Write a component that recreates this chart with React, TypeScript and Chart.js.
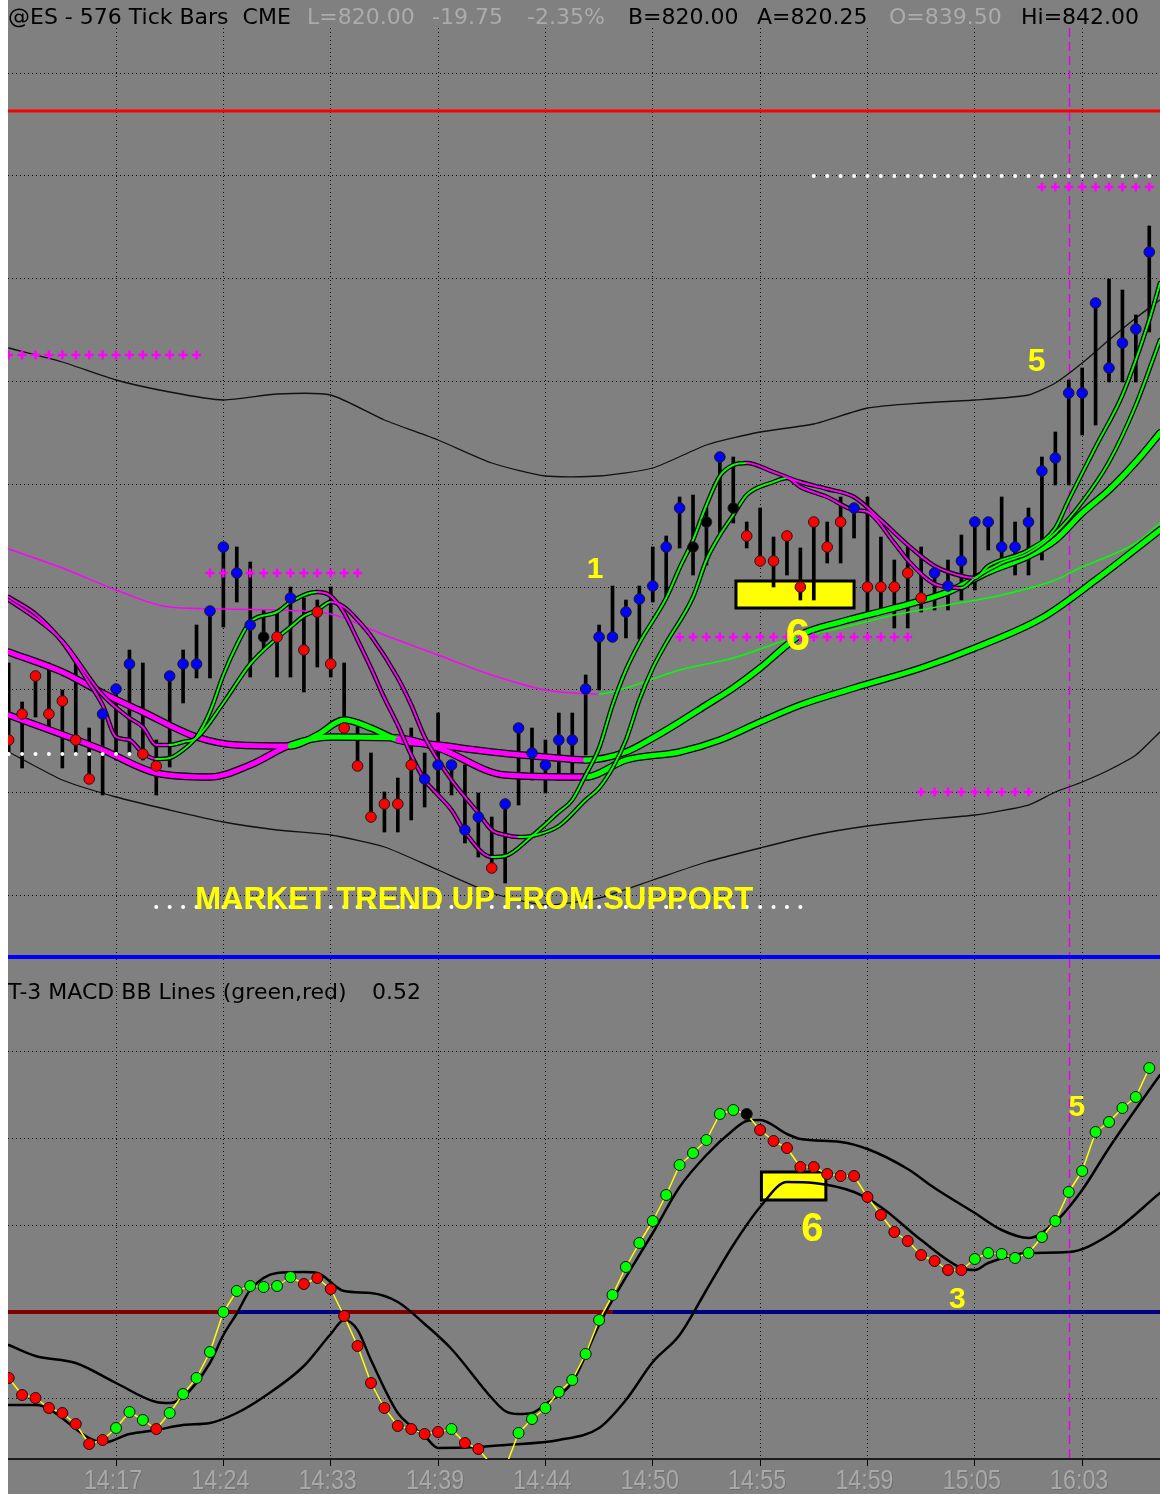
import React, { useEffect, useRef } from 'react';
import { Chart, registerables } from 'chart.js';

Chart.register(...registerables);

// ---------------- data ----------------
const timeLabels = ['14:17', '14:24', '14:33', '14:39', '14:44', '14:50', '14:55', '14:59', '15:05', '16:03'];
const timeTickIndex = [8, 16, 24, 32, 40, 48, 56, 64, 72, 80];

const barHigh = [
  836.37, 835.98, 836.27, 836.37, 836.10, 836.37, 835.72, 835.87, 836.13, 836.50,
  836.37, 835.60, 836.27, 836.50, 836.75, 836.90, 837.53, 837.53, 837.38, 836.90,
  836.88, 837.13, 837.02, 837.00, 837.13, 836.37, 835.73, 835.47, 835.08, 835.22,
  835.72, 835.47, 835.87, 835.35, 835.35, 835.07, 834.83, 834.95, 835.73, 835.72,
  835.60, 835.87, 835.87, 836.25, 836.75, 837.14, 837.00, 837.14, 837.53, 837.64,
  838.03, 838.05, 837.92, 838.43, 838.43, 837.78, 837.92, 837.63, 837.63, 837.52,
  837.78, 837.78, 838.03, 837.92, 838.03, 837.63, 837.40, 837.53, 837.53, 837.30,
  837.40, 837.65, 837.78, 837.78, 838.03, 837.78, 837.92, 838.43, 838.68, 839.20,
  839.32, 839.98, 840.21, 840.10, 839.85, 840.74,
];
const barLow = [
  835.47, 835.32, 835.83, 835.70, 835.32, 835.47, 835.20, 835.05, 835.40, 835.47,
  835.40, 835.05, 835.33, 835.97, 836.22, 836.22, 836.73, 836.98, 836.23, 836.50,
  836.23, 836.23, 836.08, 836.33, 836.23, 835.70, 835.33, 834.80, 834.68, 834.68,
  834.80, 834.93, 835.07, 835.05, 834.57, 834.43, 834.30, 834.17, 834.95, 835.20,
  835.07, 835.20, 835.20, 835.45, 836.10, 836.63, 836.62, 836.61, 836.98, 837.03,
  837.52, 837.25, 837.35, 837.65, 837.77, 837.52, 837.38, 837.13, 837.25, 837.00,
  837.00, 837.37, 837.37, 837.62, 836.88, 836.90, 836.72, 836.72, 836.88, 836.90,
  836.90, 837.00, 837.10, 837.50, 837.42, 837.25, 837.25, 837.40, 838.15, 838.15,
  838.65, 838.75, 839.18, 839.18, 839.18, 839.68,
];
const barClose = [
  835.60, 835.86, 836.24, 835.86, 835.99, 835.60, 835.21, 835.86, 836.11, 836.36,
  835.46, 835.34, 836.24, 836.36, 836.36, 836.89, 837.53, 837.27, 836.75, 836.63,
  836.63, 837.02, 836.50, 836.88, 836.36, 835.72, 835.34, 834.83, 834.96, 834.96,
  835.35, 835.21, 835.35, 835.35, 834.70, 834.83, 834.32, 834.96, 835.72, 835.47,
  835.35, 835.60, 835.60, 836.11, 836.63, 836.63, 836.88, 837.01, 837.14, 837.53,
  837.92, 837.53, 837.78, 838.43, 837.92, 837.64, 837.39, 837.39, 837.64, 837.13,
  837.78, 837.53, 837.78, 837.92, 837.13, 837.13, 837.13, 837.27, 837.02, 837.27,
  837.14, 837.39, 837.78, 837.78, 837.53, 837.53, 837.78, 838.29, 838.42, 839.07,
  839.07, 839.97, 839.32, 839.57, 839.71, 840.48,
];
// B = up (blue), R = down (red), K = neutral (black)
const barCloseState = ['RRRRRRRBBB', 'RRBBBBBBBK', 'RBRRRRRRRR', 'RBBBBBRBBB', 'BBBBBBBBBB',
  'BKKBKRRRRR', 'RRRBRRRRRB', 'BBBBBBBBBB', 'BBBBBB'].join('').split('');

const upperBandIdx = [0, 4, 8, 12, 16, 20, 24, 28, 32, 36, 40, 44, 48, 52, 56, 60, 64, 68, 72, 76, 78, 80, 82, 84, 85.8];
const upperBandVal = [839.52, 839.38, 839.20, 839.08, 839.00, 839.06, 839.05, 838.80, 838.60, 838.37, 838.24, 838.24, 838.32,
  838.55, 838.68, 838.76, 838.92, 838.97, 839.00, 839.05, 839.17, 839.37, 839.60, 839.82, 840.00];
const lowerBandIdx = [0, 4, 8, 12, 16, 20, 24, 28, 32, 36, 40, 44, 48, 52, 56, 60, 64, 68, 72, 76, 78, 80, 82, 84, 85.8];
const lowerBandVal = [835.48, 835.20, 835.03, 834.90, 834.78, 834.70, 834.65, 834.53, 834.30, 834.07, 833.95, 834.02, 834.20,
  834.38, 834.52, 834.65, 834.74, 834.80, 834.85, 834.95, 835.08, 835.18, 835.30, 835.45, 835.68];

const slowAvgIdx = [0, 4, 8, 12, 16, 20, 24, 28, 32, 36, 40, 42, 44, 46, 50, 54, 58, 62, 66, 70, 74, 78, 80, 82, 84, 85.8];
const slowAvgVal = [837.51, 837.32, 837.10, 836.93, 836.91, 836.90, 836.86, 836.65, 836.45, 836.25, 836.10, 836.07, 836.06,
  836.12, 836.30, 836.42, 836.60, 836.72, 836.85, 836.95, 837.05, 837.20, 837.33, 837.44, 837.57, 837.77];

const thickAIdx = [0, 4, 7, 10, 14, 17, 21, 23, 25, 27, 29, 32, 36, 40, 43, 46, 48, 50, 52, 54, 56, 58, 59, 62, 66, 70, 73, 76, 78, 80, 82, 84, 85.8];
const thickAVal = [836.48, 836.28, 836.07, 835.88, 835.63, 835.55, 835.54, 835.65, 835.80, 835.72, 835.60, 835.55, 835.48,
  835.43, 835.40, 835.48, 835.62, 835.78, 835.95, 836.12, 836.32, 836.55, 836.65, 836.78, 836.92, 837.08, 837.28, 837.44,
  837.60, 837.87, 838.10, 838.38, 838.67];
const thickATrend = ('DDDDDD' + 'UUUU' + 'DDDD' + 'UUUUUUUUUUUUUUUUUUU').split('');

const thickBIdx = [0, 7, 11, 15, 18, 21, 24, 29, 32, 37, 43, 46, 50, 53, 56, 59, 63, 68, 72, 77, 81, 85.8];
const thickBVal = [835.85, 835.50, 835.27, 835.23, 835.35, 835.55, 835.63, 835.62, 835.52, 835.25, 835.23, 835.40, 835.48,
  835.60, 835.78, 835.95, 836.12, 836.32, 836.52, 836.82, 837.20, 837.70];
const thickBTrend = ('DDDDD' + 'UU' + 'DDD' + 'UUUUUUUUUUUU').split('');

const fastAIdx = [0, 2, 4, 6, 7, 8, 9, 10, 11, 12, 13, 14, 15, 16, 17, 18, 20, 21, 23, 24, 25, 26, 27, 28, 29, 30, 31, 32, 33,
  34, 36, 37, 39, 41, 42, 43, 44, 45, 46, 47, 49, 50, 51, 52, 53, 54, 55, 57, 59, 61, 63, 65, 67, 69, 71, 72, 73, 76, 78, 79,
  81, 83, 85, 85.8];
const fastAVal = [837.03, 836.86, 836.58, 836.17, 835.95, 835.63, 835.60, 835.47, 835.41, 835.42, 835.50, 835.63, 835.88,
  836.25, 836.55, 836.78, 836.88, 836.98, 837.08, 837.04, 836.87, 836.60, 836.32, 836.02, 835.75, 835.45, 835.20, 835.05,
  834.90, 834.68, 834.43, 834.44, 834.64, 834.88, 835.00, 835.25, 835.52, 835.95, 836.30, 836.57, 837.02, 837.32, 837.60,
  837.95, 838.24, 838.35, 838.37, 838.28, 838.18, 838.11, 838.03, 837.80, 837.55, 837.34, 837.24, 837.22, 837.34, 837.50,
  837.72, 838.00, 838.53, 839.05, 839.80, 840.17];

const fastBIdx = [0, 2, 4, 7, 9, 10, 11, 12, 13, 14, 16, 18, 20, 21, 22, 23, 24, 25, 26, 27, 29, 30, 31, 32, 33, 35, 36, 37, 38,
  39, 41, 43, 44, 45, 46, 47, 48, 49, 51, 52, 53, 54, 55, 57, 58, 59, 61, 63, 64, 66, 67, 69, 71, 72, 74, 76, 78, 80, 82, 84, 85.8];
const fastBVal = [837.00, 836.82, 836.59, 836.05, 835.82, 835.73, 835.55, 835.55, 835.58, 835.62, 835.97, 836.36, 836.62,
  836.73, 836.84, 836.90, 836.98, 836.93, 836.80, 836.64, 836.22, 835.95, 835.63, 835.40, 835.20, 834.87, 834.70, 834.65,
  834.63, 834.64, 834.74, 835.00, 835.12, 835.32, 835.60, 836.00, 836.32, 836.57, 837.03, 837.40, 837.65, 837.85, 838.05,
  838.18, 838.22, 838.13, 838.03, 837.90, 837.88, 837.57, 837.40, 837.16, 837.12, 837.22, 837.37, 837.47, 837.67, 837.98,
  838.38, 838.95, 839.60];

const resistancePrice = 841.89;
const crossLevelFrom = [0, 15, 50, 68, 77];
const crossLevelTo = [14, 26, 67, 76, 85];
const crossLevelPrice = [839.45, 837.27, 836.63, 835.08, 841.13];
const dotLevelFrom = [0, 11, 60];
const dotLevelTo = [10, 59, 85];
const dotLevelPrice = [835.46, 833.93, 841.24];

const setupBoxIdx = [54.2, 63.0];
const setupBoxPrice = [837.19, 836.92];
const marketNote = 'MARKET TREND UP FROM SUPPORT';
const marketNoteAt = [13.9, 834.0];
const topNoteText = ['1', '5', '6'];
const topNoteIdx = [43.7, 76.6, 58.8];
const topNotePrice = [837.30, 839.38, 836.62];
const sessionMarkIdx = 79;

const headerParts = [
  ['@ES - 576 Tick Bars  CME', 0, 'k'], ['L=820.00', 299, 'g'], ['-19.75', 424, 'g'], ['-2.35%', 519, 'g'],
  ['B=820.00', 620, 'k'], ['A=820.25', 749, 'k'], ['O=839.50', 881, 'g'], ['Hi=842.00', 1013, 'k'],
];

const macdValues = [
  -0.132, -0.166, -0.172, -0.192, -0.202, -0.224, -0.264, -0.256, -0.232, -0.200,
  -0.216, -0.234, -0.202, -0.164, -0.132, -0.080, 0.000, 0.042, 0.052, 0.050,
  0.052, 0.070, 0.056, 0.068, 0.046, -0.008, -0.068, -0.142, -0.192, -0.228,
  -0.234, -0.244, -0.240, -0.234, -0.262, -0.274, -0.306, -0.312, -0.242, -0.214,
  -0.192, -0.160, -0.136, -0.084, -0.016, 0.034, 0.090, 0.138, 0.182, 0.234,
  0.294, 0.318, 0.344, 0.396, 0.404, 0.396, 0.364, 0.342, 0.328, 0.290,
  0.290, 0.276, 0.272, 0.272, 0.230, 0.194, 0.160, 0.142, 0.114, 0.102,
  0.084, 0.084, 0.106, 0.118, 0.116, 0.108, 0.118, 0.150, 0.182, 0.240,
  0.282, 0.360, 0.380, 0.408, 0.430, 0.488,
];
const macdState = ['RRRRRRRRGG', 'GRGGGGGGGG', 'GGRRRRRRRR', 'RRRGRRRRGG', 'GGGGGGGGGG',
  'GGGGGKRRRR', 'RRRRRRRRRR', 'RRGGGGGGGG', 'GGGGGG'].join('').split('');

const macdUpperIdx = [0, 2, 5, 8, 11, 12, 13, 15, 16, 17, 18, 20, 22, 23, 25, 27, 29, 31, 33, 36, 37, 38, 39, 40, 42, 44, 45,
  47, 48, 50, 52, 54, 55, 56, 58, 59, 62, 64, 67, 69, 72, 74, 76, 78, 80, 82, 85, 85.8];
const macdUpperVal = [-0.066, -0.088, -0.102, -0.142, -0.180, -0.182, -0.170, -0.102, -0.046, -0.003, 0.044, 0.078, 0.080,
  0.078, 0.042, 0.038, 0.020, -0.024, -0.074, -0.172, -0.198, -0.204, -0.202, -0.184, -0.140, -0.026, 0.024, 0.114, 0.158,
  0.250, 0.314, 0.364, 0.382, 0.384, 0.356, 0.346, 0.340, 0.326, 0.286, 0.248, 0.198, 0.164, 0.148, 0.180, 0.244, 0.328,
  0.444, 0.474];
const macdLowerIdx = [0, 2, 6, 7, 9, 11, 13, 15, 17, 19, 22, 24, 25, 26, 27, 29, 30, 31, 32, 35, 37, 41, 44, 46, 48, 50, 52,
  54, 56, 58, 60, 63, 65, 68, 71, 72, 73, 76, 79, 82, 85.8];
const macdLowerVal = [-0.186, -0.186, -0.252, -0.262, -0.244, -0.236, -0.226, -0.222, -0.202, -0.170, -0.108, -0.044, -0.016,
  -0.036, -0.096, -0.202, -0.228, -0.248, -0.272, -0.270, -0.266, -0.256, -0.232, -0.176, -0.100, -0.046, 0.044, 0.134,
  0.210, 0.260, 0.258, 0.240, 0.210, 0.144, 0.088, 0.084, 0.098, 0.118, 0.120, 0.154, 0.238];

const macdBoxIdx = [56.1, 60.9];
const macdBoxVal = [0.28, 0.224];
const macdNoteText = ['5', '6', '3'];
const macdNoteIdx = [79.6, 59.9, 70.7];
const macdNoteVal = [0.408, 0.164, 0.024];
const macdTitle = 'T-3 MACD BB Lines (green,red)';
const macdReading = '0.52';

// ---------------- layout constants ----------------
const W = 1152;
const TOP_H = 955;
const BOT_H = 535;
const X_MIN = -0.05;
const X_MAX = 85.8;
const PRICE_MIN = 833.45;
const PRICE_MAX = 842.72;
const PRICE_GRID_TOP = 842.27;
const PRICE_GRID_STEP = 1.028;
const MACD_MIN = -0.294;
const MACD_MAX = 0.706;
const MACD_GRID = [-0.1735, 0, 0.1735, 0.347, 0.5205];

const MAGENTA = '#ff00ff';
const GREEN = '#00ff00';
const YELLOW = '#ffff00';
const LIGHT = '#ababab';
const UI_FONT = '"DejaVu Sans", Verdana, sans-serif';
const BOLD_FONT = '"Liberation Sans", Arial, sans-serif';
const BAR_DOT: Record<string, string> = { B: '#0000ff', R: '#ff0000', K: '#000000' };
const MACD_DOT: Record<string, string> = { G: '#00ff00', R: '#ff0000', K: '#000000' };

const pts = (xs: number[], ys: number[]) => xs.map((x, k) => ({ x, y: ys[k] }));
const levelPts = (a: number, b: number, y: number) => {
  const out: { x: number; y: number }[] = [];
  for (let i = a; i <= b; i++) out.push({ x: i, y });
  return out;
};
const barIndex = barHigh.map((_, i) => i);

const slopeColor = (ctx: any) => (ctx.p1.parsed.y > ctx.p0.parsed.y ? GREEN : MAGENTA);
const trendColor = (trend: string[]) => (ctx: any) => (trend[ctx.p0DataIndex] === 'U' ? GREEN : MAGENTA);

const lineDs = (data: any[], opts: any) => ({
  type: 'line',
  data,
  showLine: true,
  pointRadius: 0,
  pointHoverRadius: 0,
  fill: false,
  cubicInterpolationMode: 'monotone',
  borderJoinStyle: 'round',
  borderCapStyle: 'round',
  clip: 0,
  ...opts,
});

function drawText(ctx: CanvasRenderingContext2D, s: string, x: number, y: number, font: string, color: string, align: CanvasTextAlign = 'left') {
  ctx.save();
  ctx.font = font;
  ctx.fillStyle = color;
  ctx.textAlign = align;
  ctx.textBaseline = 'middle';
  ctx.fillText(s, x, y);
  ctx.restore();
}

function drawBox(chart: any, xs: number[], ys: number[]) {
  const { ctx, scales } = chart;
  const x1 = scales.x.getPixelForValue(xs[0]);
  const x2 = scales.x.getPixelForValue(xs[1]);
  const y1 = scales.y.getPixelForValue(ys[0]);
  const y2 = scales.y.getPixelForValue(ys[1]);
  ctx.save();
  ctx.fillStyle = YELLOW;
  ctx.fillRect(x1, y1, x2 - x1, y2 - y1);
  ctx.lineWidth = 3;
  ctx.strokeStyle = '#000';
  ctx.strokeRect(x1, y1, x2 - x1, y2 - y1);
  ctx.restore();
}

function drawSessionMark(chart: any) {
  const { ctx, scales, chartArea } = chart;
  const x = Math.round(scales.x.getPixelForValue(sessionMarkIdx)) + 0.5;
  ctx.save();
  ctx.strokeStyle = '#e600e6';
  ctx.lineWidth = 1.5;
  ctx.setLineDash([9, 5]);
  ctx.beginPath();
  ctx.moveTo(x, chartArea.top);
  ctx.lineTo(x, chartArea.bottom);
  ctx.stroke();
  ctx.restore();
}

const gridScale = (min: number, max: number, ticks: number[], isX: boolean) => ({
  type: 'linear',
  min,
  max,
  offset: false,
  afterBuildTicks: (s: any) => {
    s.ticks = ticks.map((v) => ({ value: v }));
  },
  afterFit: (s: any) => {
    if (isX) s.height = 0;
    else s.width = 0;
  },
  ticks: { display: false },
  grid: { color: '#000', lineWidth: 1, drawTicks: false, offset: false },
  border: { display: false, dash: [1, 3] },
});

const baseOptions = {
  animation: false,
  responsive: false,
  maintainAspectRatio: false,
  devicePixelRatio: 1,
  events: [],
  plugins: { legend: { display: false }, tooltip: { enabled: false }, title: { display: false } },
};

function topConfig(): any {
  const priceGrid = Array.from({ length: 9 }, (_, k) => PRICE_GRID_TOP - k * PRICE_GRID_STEP);
  const crosses: any[] = [];
  crossLevelFrom.forEach((a, k) => crosses.push(...levelPts(a, crossLevelTo[k], crossLevelPrice[k])));
  const whites: any[] = [];
  dotLevelFrom.forEach((a, k) => whites.push(...levelPts(a, dotLevelTo[k], dotLevelPrice[k])));

  const datasets: any[] = [
    {
      type: 'scatter', data: pts(barIndex, barClose), showLine: false, pointStyle: 'circle', pointRadius: 5.3,
      pointHoverRadius: 5.3, pointBackgroundColor: barCloseState.map((c) => BAR_DOT[c]), pointBorderColor: '#1a1a1a',
      pointBorderWidth: 1, order: 1, clip: 0,
    },
    { type: 'scatter', data: whites, showLine: false, pointStyle: 'circle', pointRadius: 2, pointBackgroundColor: '#ffffff', pointBorderWidth: 0, order: 1.5, clip: 0 },
    { type: 'scatter', data: crosses, showLine: false, pointStyle: 'cross', pointRadius: 4.5, borderColor: MAGENTA, pointBorderColor: MAGENTA, pointBorderWidth: 2.5, order: 1.6, clip: 0 },
    lineDs(pts(fastAIdx, fastAVal), { borderWidth: 2, borderColor: GREEN, segment: { borderColor: slopeColor }, order: 2 }),
    lineDs(pts(fastBIdx, fastBVal), { borderWidth: 2, borderColor: GREEN, segment: { borderColor: slopeColor }, order: 2 }),
    lineDs(pts(fastAIdx, fastAVal), { borderWidth: 4.5, borderColor: '#000', order: 3 }),
    lineDs(pts(fastBIdx, fastBVal), { borderWidth: 4.5, borderColor: '#000', order: 3 }),
    lineDs(pts(thickAIdx, thickAVal), { borderWidth: 5, borderColor: GREEN, segment: { borderColor: trendColor(thickATrend) }, order: 4 }),
    lineDs(pts(thickBIdx, thickBVal), { borderWidth: 5, borderColor: GREEN, segment: { borderColor: trendColor(thickBTrend) }, order: 4 }),
    lineDs(pts(thickAIdx, thickAVal), { borderWidth: 7.5, borderColor: '#000', order: 5 }),
    lineDs(pts(thickBIdx, thickBVal), { borderWidth: 7.5, borderColor: '#000', order: 5 }),
    lineDs(pts(slowAvgIdx, slowAvgVal), { borderWidth: 1.5, borderColor: MAGENTA, segment: { borderColor: slopeColor }, order: 5.8 }),
    {
      type: 'bar', data: barIndex.map((i) => ({ x: i, y: [barLow[i], barHigh[i]] })), backgroundColor: '#000',
      borderWidth: 0, barThickness: 3, order: 6, clip: 0,
    },
    lineDs(pts(upperBandIdx, upperBandVal), { borderWidth: 1.3, borderColor: '#111', cubicInterpolationMode: 'default', tension: 0.2, order: 8 }),
    lineDs(pts(lowerBandIdx, lowerBandVal), { borderWidth: 1.3, borderColor: '#111', cubicInterpolationMode: 'default', tension: 0.2, order: 8 }),
    lineDs([{ x: X_MIN, y: resistancePrice }, { x: X_MAX, y: resistancePrice }], { borderWidth: 3, borderColor: '#ff0000', order: 9, cubicInterpolationMode: 'default', tension: 0, borderCapStyle: 'butt' }),
  ];

  const overlay = {
    id: 'priceOverlay',
    beforeDatasetsDraw(chart: any) {
      drawBox(chart, setupBoxIdx, setupBoxPrice);
      drawSessionMark(chart);
    },
    afterDatasetsDraw(chart: any) {
      const { ctx, scales } = chart;
      headerParts.forEach(([t, x, c]) => drawText(ctx, t as string, x as number, 18, `22px ${UI_FONT}`, c === 'k' ? '#000' : LIGHT));
      const sizes = [30, 32, 44];
      topNoteText.forEach((t, k) => {
        drawText(ctx, t, scales.x.getPixelForValue(topNoteIdx[k]), scales.y.getPixelForValue(topNotePrice[k]), `bold ${sizes[k]}px ${BOLD_FONT}`, YELLOW, 'center');
      });
      drawText(ctx, marketNote, scales.x.getPixelForValue(marketNoteAt[0]), scales.y.getPixelForValue(marketNoteAt[1]), `bold 31px ${BOLD_FONT}`, YELLOW, 'left');
    },
  };

  return {
    type: 'line',
    data: { datasets },
    options: {
      ...baseOptions,
      layout: { autoPadding: false, padding: { top: 28, left: 0, right: 0, bottom: 0 } },
      scales: {
        x: gridScale(X_MIN, X_MAX, timeTickIndex, true),
        y: gridScale(PRICE_MIN, PRICE_MAX, priceGrid, false),
      },
    },
    plugins: [overlay],
  };
}

function bottomConfig(): any {
  const zeroPts = [{ x: X_MIN, y: 0 }, ...macdValues.map((_, i) => ({ x: i, y: 0 })), { x: X_MAX, y: 0 }];
  const zeroColor = (ctx: any) => {
    const k = Math.max(0, Math.min(macdValues.length - 1, ctx.p0DataIndex - 1));
    return macdValues[k] > 0 ? '#000080' : '#800000';
  };
  const datasets: any[] = [
    lineDs(pts(barIndex, macdValues), {
      borderWidth: 1.5, borderColor: YELLOW, cubicInterpolationMode: 'default', tension: 0, pointRadius: 5.5,
      pointHoverRadius: 5.5, pointStyle: 'circle', pointBackgroundColor: macdState.map((c) => MACD_DOT[c]),
      pointBorderColor: '#111', pointBorderWidth: 1, order: 1,
    }),
    lineDs(pts(macdUpperIdx, macdUpperVal), { borderWidth: 2.5, borderColor: '#000', order: 2 }),
    lineDs(pts(macdLowerIdx, macdLowerVal), { borderWidth: 2.5, borderColor: '#000', order: 2 }),
    lineDs(zeroPts, { borderWidth: 4, borderColor: '#800000', segment: { borderColor: zeroColor }, cubicInterpolationMode: 'default', tension: 0, borderCapStyle: 'butt', order: 3 }),
  ];

  const overlay = {
    id: 'macdOverlay',
    beforeDatasetsDraw(chart: any) {
      drawBox(chart, macdBoxIdx, macdBoxVal);
      drawSessionMark(chart);
    },
    afterDatasetsDraw(chart: any) {
      const { ctx, scales } = chart;
      drawText(ctx, macdTitle, 0, 34, `22px ${UI_FONT}`, '#000');
      drawText(ctx, macdReading, 364, 34, `22px ${UI_FONT}`, '#000');
      const sizes = [30, 40, 30];
      macdNoteText.forEach((t, k) => {
        drawText(ctx, t, scales.x.getPixelForValue(macdNoteIdx[k]), scales.y.getPixelForValue(macdNoteVal[k]), `bold ${sizes[k]}px ${BOLD_FONT}`, YELLOW, 'center');
      });
    },
    afterDraw(chart: any) {
      // condensed time labels under the axis, positioned by the x scale
      const { ctx, scales, chartArea } = chart;
      timeTickIndex.forEach((v, k) => {
        const x = scales.x.getPixelForValue(v) - 3;
        ctx.save();
        ctx.translate(x, chartArea.bottom + 22);
        ctx.scale(0.83, 1);
        ctx.font = `28px ${BOLD_FONT}`;
        ctx.textAlign = 'center';
        ctx.textBaseline = 'middle';
        ctx.fillStyle = '#6e6e6e';
        ctx.fillText(timeLabels[k], 1, 1);
        ctx.fillStyle = '#a9a9a9';
        ctx.fillText(timeLabels[k], 0, 0);
        ctx.restore();
      });
    },
  };

  const xScale: any = {
    ...gridScale(X_MIN, X_MAX, timeTickIndex, true),
    afterFit: (s: any) => {
      s.height = 35;
    },
    ticks: { display: false },
    grid: { color: '#000', lineWidth: 1, drawTicks: true, tickLength: 7, tickColor: '#000', tickWidth: 1, offset: false },
    border: { display: true, color: '#1c1c1c', width: 2, dash: [1, 3] },
  };

  return {
    type: 'line',
    data: { datasets },
    options: {
      ...baseOptions,
      layout: { autoPadding: false, padding: 0 },
      scales: {
        x: xScale,
        y: gridScale(MACD_MIN, MACD_MAX, MACD_GRID, false),
      },
    },
    plugins: [overlay],
  };
}

export default function App() {
  const topRef = useRef<HTMLCanvasElement | null>(null);
  const botRef = useRef<HTMLCanvasElement | null>(null);

  useEffect(() => {
    const top = new Chart(topRef.current as HTMLCanvasElement, topConfig());
    const bottom = new Chart(botRef.current as HTMLCanvasElement, bottomConfig());
    return () => {
      top.destroy();
      bottom.destroy();
    };
  }, []);

  return (
    <div style={{ position: 'absolute', left: 8, top: 0, width: W, height: TOP_H + 4 + BOT_H, background: '#808080', overflow: 'hidden' }}>
      <canvas ref={topRef} width={W} height={TOP_H} style={{ position: 'absolute', left: 0, top: 0, width: W, height: TOP_H }} />
      <div style={{ position: 'absolute', left: 0, top: TOP_H, width: W, height: 4, background: '#0000ff' }} />
      <canvas ref={botRef} width={W} height={BOT_H} style={{ position: 'absolute', left: 0, top: TOP_H + 4, width: W, height: BOT_H }} />
    </div>
  );
}
